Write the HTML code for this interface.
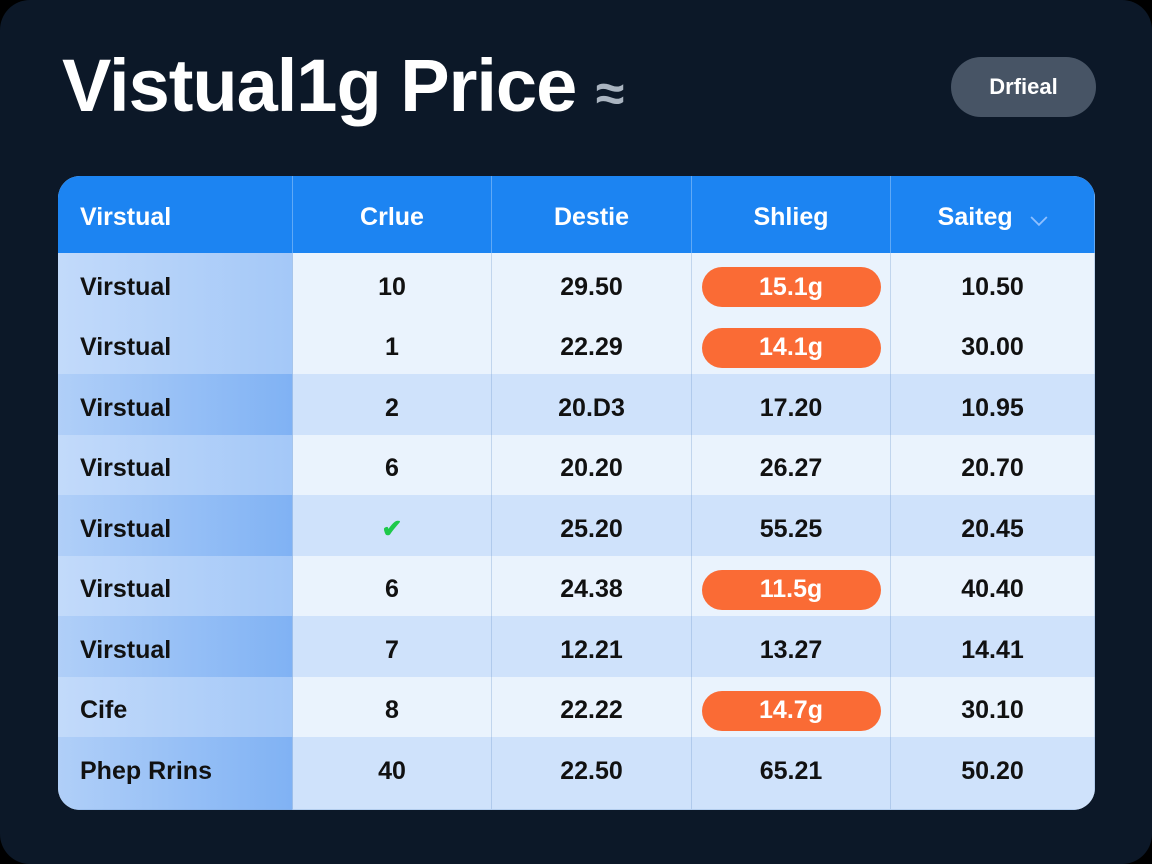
<!DOCTYPE html>
<html><head><meta charset="utf-8">
<style>
html,body{margin:0;padding:0;background:#000;}
body{width:1152px;height:864px;overflow:hidden;position:relative;font-family:"Liberation Sans",sans-serif;}
#card{position:absolute;left:0;top:0;width:1152px;height:864px;background:#0c1828;border-radius:30px;}
#title{position:absolute;left:62px;top:44px;font-size:74px;font-weight:bold;color:#fff;letter-spacing:-1px;line-height:84px;}
#title span{color:#aab4c0;font-size:52px;}
#btn{position:absolute;left:951px;top:57px;width:145px;height:60px;border-radius:30px;background:#475465;color:#fff;font-size:22px;font-weight:bold;text-align:center;line-height:60px;}
#tbl{position:absolute;left:58px;top:176px;width:1037px;height:634px;border-radius:22px;overflow:hidden;background:#eaf3fd;}
.cell{position:absolute;box-sizing:border-box;display:flex;align-items:center;justify-content:center;font-size:25px;font-weight:bold;color:#111;border-right:1px solid rgba(120,160,210,0.35);border-bottom:1px solid rgba(120,160,210,0.3);padding-top:8px;}
.hdr{background:#1c84f2;color:#fff;border-right:1px solid rgba(255,255,255,0.3);border-bottom:none;padding-top:6px;}
.left{justify-content:flex-start;padding-left:22px;}
.pill{background:#fa6b35;color:#fff;width:179px;height:40px;border-radius:20px;display:flex;align-items:center;justify-content:center;}
</style></head><body>
<div id="card">
<div id="title">Vistual1g Price <span>&#x2248;</span></div>
<div id="btn">Drfieal</div>
<div id="tbl"></div>
</div>
<script>
const headers=["Virstual","Crlue","Destie","Shlieg","Saiteg"];
const names=["Virstual","Virstual","Virstual","Virstual","Virstual","Virstual","Virstual","Cife","Phep Rrins"];
const col2=["10","1","2","6","✔","6","7","8","40"];
const col3=["29.50","22.29","20.D3","20.20","25.20","24.38","12.21","22.22","22.50"];
const col4=["15.1g","14.1g","17.20","26.27","55.25","11.5g","13.27","14.7g","65.21"];
const pillFlags=[1,1,0,0,0,1,0,1,0];
const col5=["10.50","30.00","10.95","20.70","20.45","40.40","14.41","30.10","50.20"];
const darkRows=[0,0,1,0,1,0,1,0,1];
const colX=[0,235,434,634,833,1037];
const hdrH=77,rowH=60.5;
const t=document.getElementById('tbl');
function mk(x,y,w,h,cls){const d=document.createElement('div');d.className='cell '+cls;d.style.left=x+'px';d.style.top=y+'px';d.style.width=w+'px';d.style.height=h+'px';t.appendChild(d);return d;}
headers.forEach((h,i)=>{const d=mk(colX[i],0,colX[i+1]-colX[i],hdrH,'hdr'+(i==0?' left':''));


d.textContent=h;
if(i==4){const s=document.createElement('span');s.textContent=' ⌵';s.style.cssText='color:#8fc0ff;font-size:22px;margin-left:18px;';d.appendChild(s);}});
const cols=[names,col2,col3,col4,col5];
for(let r=0;r<names.length;r++){
 const y=hdrH+r*rowH;
 const h=(r==names.length-1)?(634-y):rowH+1;
 for(let c=0;c<5;c++){
  const d=mk(colX[c],y,colX[c+1]-colX[c],h,c==0?'left':'');
  
  
  if(c==0) d.style.background=darkRows[r]?'linear-gradient(90deg,#b0cff8,#80b2f4)':'linear-gradient(90deg,#c2dafa,#a4c8f8)';
  else d.style.background=darkRows[r]?'#cfe2fb':'#eaf3fd';
  if(r==names.length-1) d.style.paddingBottom='12px';
  const v=cols[c][r];
  if(c==3&&pillFlags[r]){const p=document.createElement('div');p.className='pill';
   
   
   p.textContent=v;d.appendChild(p);}
  else if(v==='✔'){d.textContent=v;d.style.color='#1ec94a';}
  else d.textContent=v;
 }
}
</script>
</body></html>
